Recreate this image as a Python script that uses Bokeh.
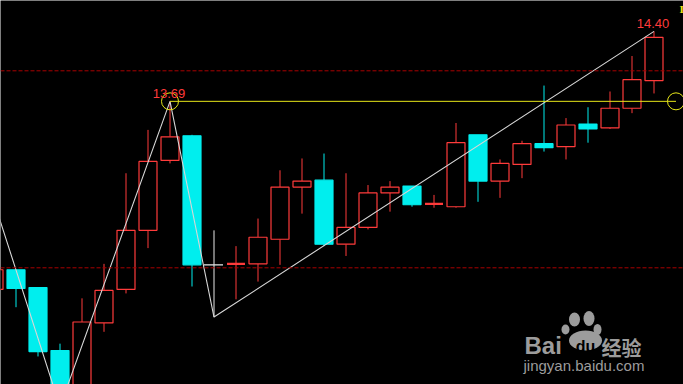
from bokeh.plotting import figure
from bokeh.models import Range1d, ColumnDataSource, Span
from bokeh.embed import file_html
from bokeh.resources import INLINE
from bokeh.core.properties import value

# ---------------- data ----------------
idx = list(range(-1, 30))
opens = [11.78, 11.98, 11.80, 11.16, 10.72, 11.44, 11.78, 12.38, 13.09, 13.34,
         12.03, 12.04, 12.04, 12.29, 12.82, 12.89, 12.24, 12.41, 12.76, 12.83,
         12.65, 12.62, 13.35, 12.88, 13.05, 13.26, 13.23, 13.46, 13.42, 13.62, 13.90]
closes = [11.98, 11.79, 11.15, 10.68, 11.45, 11.77, 12.38, 13.08, 13.33, 12.03,
          12.03, 12.04, 12.31, 12.82, 12.88, 12.24, 12.41, 12.76, 12.82, 12.64,
          12.65, 13.27, 12.88, 13.06, 13.26, 13.22, 13.45, 13.41, 13.62, 13.91, 14.34]
highs = [12.02, 11.98, 11.80, 11.23, 11.69, 12.04, 12.96, 13.40, 13.69, 13.35,
         12.38, 12.22, 12.50, 12.99, 13.11, 13.16, 12.96, 12.84, 12.88, 12.83,
         12.74, 13.47, 13.35, 13.10, 13.29, 13.85, 13.52, 13.63, 13.79, 14.15, 14.40]
lows = [11.74, 11.60, 11.10, 10.59, 10.65, 11.35, 11.74, 12.20, 13.06, 11.81,
        11.50, 11.68, 11.86, 12.03, 12.55, 12.22, 12.12, 12.39, 12.57, 12.62,
        12.61, 12.61, 12.67, 12.71, 12.91, 13.18, 13.10, 13.27, 13.41, 13.57, 13.77]

zz_idx = [-3, 2, 7, 9, 29]
zz_price = [14.06, 10.59, 13.69, 11.50, 14.40]

levels = [14.0, 12.0]
peak_labels = [7, 29]          # candle indices whose highs are annotated
mark_level_from = 7            # candle whose high is marked with yellow line
mark_level_to = 30

RED = "#ff3b3b"
CYAN = "#00eeee"
WHITE = "#e8e8e8"
YELLOW = "#e6e619"

# ---------------- derived ----------------
n = len(idx)
colors = []
for k in range(n):
    if closes[k] > opens[k]:
        colors.append(RED)
    elif closes[k] < opens[k]:
        colors.append(CYAN)
    else:
        prev = closes[k - 1] if k > 0 else closes[k]
        colors.append(RED if closes[k] > prev else (CYAN if closes[k] < prev else WHITE))

HW = 0.409
body = dict(left=[], right=[], top=[], bottom=[], fill=[], line=[])
doji = dict(x0=[], x1=[], y=[], color=[], w=[])
wick = dict(x=[], y0=[], y1=[], color=[])
for k in range(n):
    i = idx[k]
    top = max(opens[k], closes[k])
    bot = min(opens[k], closes[k])
    c = colors[k]
    if top == bot:
        doji["x0"].append(i - HW - (0.05 if c == WHITE else 0.0))
        doji["x1"].append(i + HW)
        doji["y"].append(top)
        doji["color"].append(c)
        doji["w"].append(1.2 if c == WHITE else 2.2)
    else:
        body["left"].append(i - HW)
        body["right"].append(i + HW)
        body["top"].append(top)
        body["bottom"].append(bot)
        body["fill"].append("black" if c == RED else c)
        body["line"].append(c)
    if highs[k] > top:
        wick["x"].append(i); wick["y0"].append(top); wick["y1"].append(highs[k]); wick["color"].append(c)
    if lows[k] < bot:
        wick["x"].append(i); wick["y0"].append(bot); wick["y1"].append(lows[k]); wick["color"].append(c)

# ---------------- figure ----------------
W, H = 683, 384
x0_px, dx_px = 15.5, 22.0
p_ref, y_ref, ppu = 14.0, 70.3, 98.5
xr = Range1d(-x0_px / dx_px, (W - x0_px) / dx_px)
yr = Range1d(p_ref - (H - y_ref) / ppu, p_ref + y_ref / ppu)

p = figure(width=W, height=H, x_range=xr, y_range=yr, output_backend="svg",
           toolbar_location=None, min_border=0, x_axis_type=None, y_axis_type=None,
           background_fill_color="black", border_fill_color="black",
           outline_line_color=None)
p.grid.visible = False
p.extra_x_ranges = {"px": Range1d(0, W)}
p.extra_y_ranges = {"px": Range1d(H, 0)}

for lv in levels:
    p.add_layout(Span(location=lv, dimension="width", line_color="#a80000",
                      line_dash="4 2", line_width=1))

p.segment(x0="x", x1="x", y0="y0", y1="y1", color="color", line_width=1,
          source=ColumnDataSource(wick))
p.quad(left="left", right="right", top="top", bottom="bottom", fill_color="fill",
       line_color="line", line_width=1.2, source=ColumnDataSource(body))
p.segment(x0="x0", x1="x1", y0="y", y1="y", color="color", line_width="w",
          source=ColumnDataSource(doji))

# zigzag
p.line(zz_idx, zz_price, line_color="#d6d6d6", line_width=1.1)

# yellow mark line and circles
lvl = highs[idx.index(mark_level_from)]
p.segment(x0=[mark_level_from], x1=[mark_level_to], y0=[lvl], y1=[lvl],
          line_color=YELLOW, line_width=1)
p.scatter([mark_level_from, mark_level_to], [lvl, lvl], marker="circle", size=17,
          fill_color=None, line_color=YELLOW, line_width=1)

# peak labels
lab_x = peak_labels
lab_y = [highs[idx.index(i)] for i in peak_labels]
p.text(lab_x, lab_y, text=[f"{v:.2f}" for v in lab_y], text_color=RED,
       text_font=value("Liberation Sans"), text_font_size="13px",
       text_align="center", text_baseline="alphabetic", x_offset=-1, y_offset=-8)

# top-right fragment
p.text([679], [2], text=["I"], text_color=YELLOW, text_font=value("Liberation Serif"),
       text_font_size="11px", text_font_style="bold", text_align="left",
       text_baseline="top", x_range_name="px", y_range_name="px")

# watermark
GRAY = "#9c9c9c"
p.text([524], [345], text=["Bai"], text_color=GRAY, text_font=value("Liberation Sans"),
       text_font_style="bold", text_font_size="24px", text_baseline="alphabetic",
       x_range_name="px", y_range_name="px")
p.ellipse(x=[574, 588.5, 597, 565], y=[319, 318, 329, 329], width=[11, 11, 8, 8],
          height=[14, 15, 11, 10], width_units="screen", height_units="screen",
          fill_color=GRAY, line_color=None, x_range_name="px", y_range_name="px")
p.ellipse(x=[585], y=[340], width=[33], height=[20], width_units="screen",
          height_units="screen", fill_color=GRAY, line_color=None,
          x_range_name="px", y_range_name="px")
p.text([585], [346], text=["du"], text_color="black", text_font=value("Liberation Sans"),
       text_font_style="bold", text_font_size="16px", text_align="center",
       text_baseline="alphabetic", x_range_name="px", y_range_name="px")
p.text([601], [347], text=["经验"], text_color=GRAY, text_font=value("Noto Sans CJK SC"),
       text_font_style="bold", text_font_size="20px", text_baseline="alphabetic",
       x_range_name="px", y_range_name="px")
p.text([523], [365], text=["jingyan.baidu.com"], text_color=GRAY,
       text_font=value("Liberation Sans"), text_font_size="15px",
       text_baseline="alphabetic", x_range_name="px", y_range_name="px")

open("out.html", "w").write(file_html(p, INLINE))
